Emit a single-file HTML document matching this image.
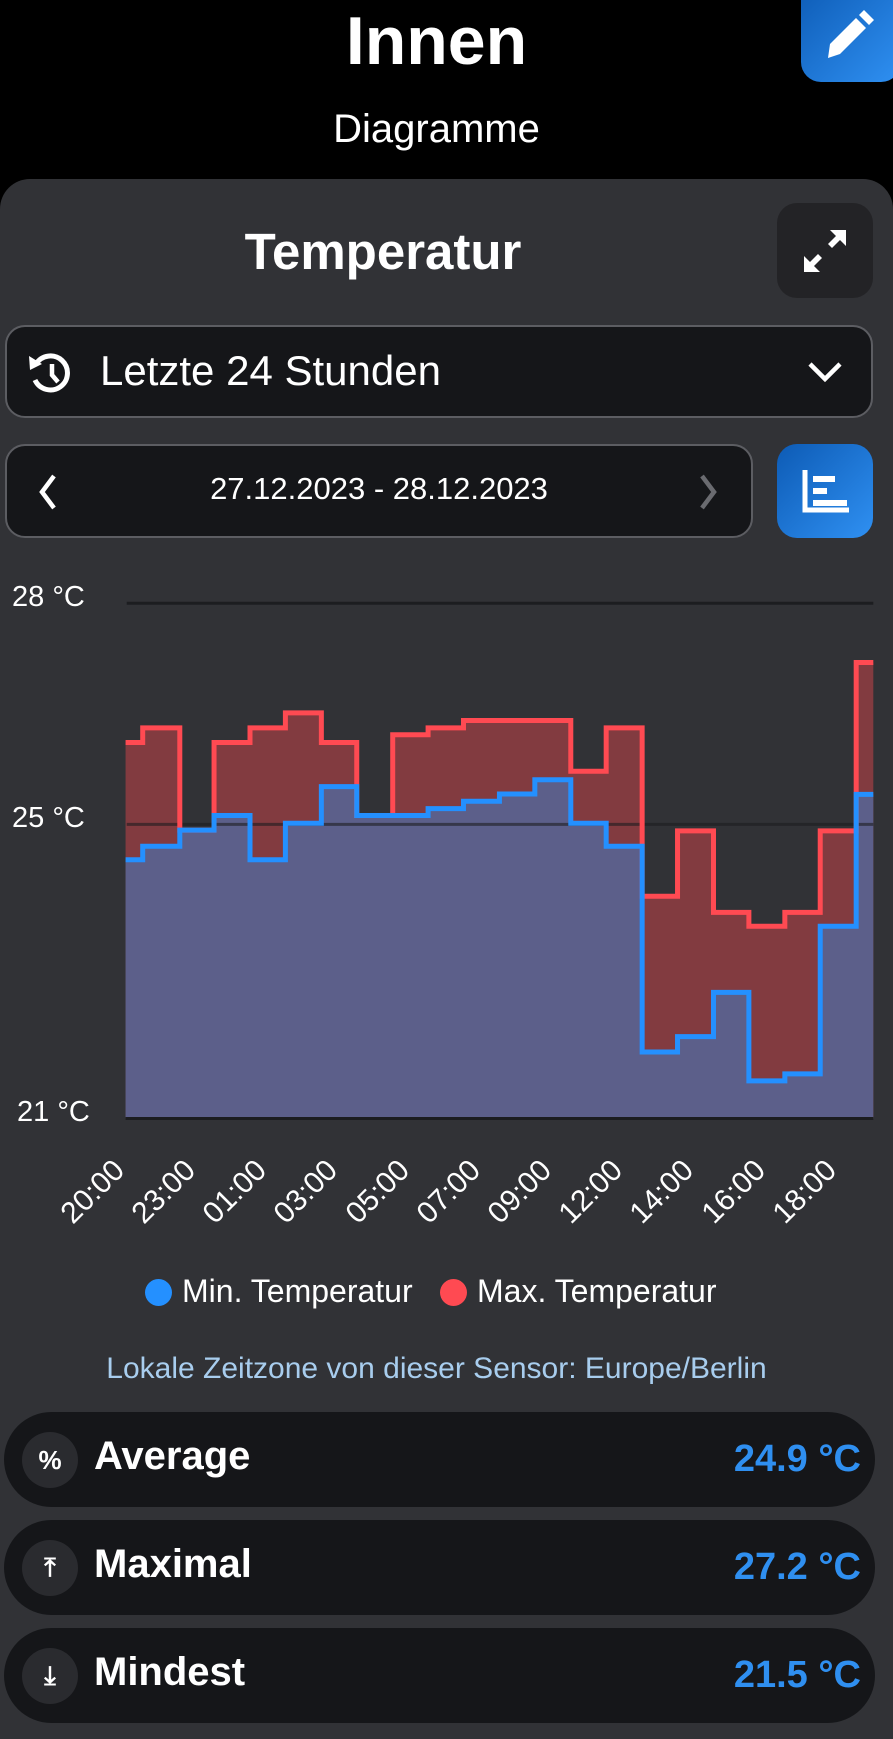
<!DOCTYPE html>
<html><head><meta charset="utf-8"><style>
*{margin:0;padding:0;box-sizing:border-box}
body{width:893px;height:1729px;background:#000;position:relative;overflow:hidden;font-family:"Liberation Sans",sans-serif;color:#fff}
.a{position:absolute}
.panel{left:0;top:179px;width:893px;height:1560px;background:#313236;border-radius:30px 30px 0 0}
.btn{border-radius:20px}
.blue{background:linear-gradient(135deg,#0d5bb5,#2f90f2)}
.row{left:4px;width:871px;height:95px;background:#151619;border-radius:48px}
.ic{left:18px;top:20px;width:56px;height:56px;border-radius:50%;background:#2a2b2f;display:flex;align-items:center;justify-content:center;font-size:26px;font-weight:bold}
.lbl{left:90px;top:22px;font-size:40px;font-weight:bold}
.val{right:14px;top:26px;font-size:38px;font-weight:bold;color:#2f8ff0}
</style></head><body>
<div class="a" style="left:0;width:873px;top:2px;text-align:center;font-size:68px;font-weight:bold">Innen</div>
<div class="a" style="left:0;width:873px;top:107px;text-align:center;font-size:40px">Diagramme</div>
<div class="a btn blue" style="left:801px;top:-20px;width:100px;height:102px"></div>
<svg class="a" style="left:820px;top:10px" width="56" height="52" viewBox="0 0 56 52"><path d="M8 48 L10 34 L36 8 L46 18 L20 44 Z" fill="#fff"/><path d="M39 5 L44 0 L54 10 L49 15 Z" fill="#fff"/></svg>
<div class="a panel"></div>
<div class="a" style="left:0;width:766px;top:222px;text-align:center;font-size:51px;font-weight:bold">Temperatur</div>
<div class="a btn" style="left:777px;top:203px;width:96px;height:95px;background:#232326"></div>
<svg class="a" style="left:800px;top:226px" width="50" height="50" viewBox="0 0 50 50"><path d="M30 4 H46 V20 L40 14 L32 22 L28 18 L36 10 Z M4 30 V46 H20 L14 40 L22 32 L18 28 L10 36 Z" fill="#fff"/></svg>
<div class="a" style="left:5px;top:325px;width:868px;height:93px;border:2px solid #5c5d62;border-radius:20px;background:#151619"></div>
<svg class="a" style="left:26px;top:348px" width="50" height="50" viewBox="0 0 50 50"><path d="M10 16 A17 17 0 1 1 9 32" fill="none" stroke="#fff" stroke-width="5"/><path d="M3 8 L4 22 L16 16 Z" fill="#fff"/><path d="M26 16 V27 L32 34" fill="none" stroke="#fff" stroke-width="4.5"/></svg>
<div class="a" style="left:100px;top:347px;font-size:42px">Letzte 24 Stunden</div>
<svg class="a" style="left:807px;top:360px" width="36" height="24"><path d="M3 4 L18 19 L33 4" fill="none" stroke="#fff" stroke-width="4.5"/></svg>
<div class="a" style="left:5px;top:444px;width:748px;height:94px;border:2px solid #5c5d62;border-radius:20px;background:#151619"></div>
<svg class="a" style="left:36px;top:472px" width="24" height="40"><path d="M18 4 L6 20 L18 36" fill="none" stroke="#fff" stroke-width="4.5"/></svg>
<svg class="a" style="left:696px;top:472px" width="24" height="40"><path d="M6 4 L18 20 L6 36" fill="none" stroke="#6a6b70" stroke-width="4.5"/></svg>
<div class="a" style="left:5px;width:748px;top:471px;text-align:center;font-size:31px">27.12.2023 - 28.12.2023</div>
<div class="a btn blue" style="left:777px;top:444px;width:96px;height:94px"></div>
<svg class="a" style="left:801px;top:466px" width="50" height="50" viewBox="0 0 50 50"><path d="M4 4 V44 H48" fill="none" stroke="#fff" stroke-width="5"/><rect x="12" y="10" width="22" height="6" fill="#fff"/><rect x="12" y="22" width="14" height="6" fill="#fff"/><rect x="12" y="34" width="34" height="6" fill="#fff"/></svg>

<div class="a" style="left:12px;top:581px;font-size:29px">28 °C</div>
<div class="a" style="left:12px;top:802px;font-size:29px">25 °C</div>
<div class="a" style="left:17px;top:1096px;font-size:29px">21 °C</div>
<svg class="a" style="left:0;top:554px" width="895" height="603" viewBox="0 0 1568 1568" preserveAspectRatio="none">
<line x1="222" y1="128" x2="1530" y2="128" stroke="#1c1d20" stroke-width="3" vector-effect="non-scaling-stroke"/>
<path d="M220,490 H250 V452 H315 V718 H375 V490 H438 V452 H500 V413 H563 V490 H625 V680 H688 V470 H750 V452 H812 V433 H1000 V565 H1062 V452 H1125 V890 H1187 V720 H1250 V932 H1312 V968 H1375 V932 H1437 V720 H1500 V282 H1530 V1468 H220 Z" fill="#823b40"/>
<path d="M220,795 H250 V760 H315 V718 H375 V680 H438 V795 H500 V700 H563 V605 H625 V680 H750 V662 H812 V643 H875 V624 H937 V587 H1000 V700 H1062 V760 H1125 V1295 H1187 V1255 H1250 V1140 H1312 V1370 H1375 V1352 H1437 V968 H1500 V625 H1530 V1468 H220 Z" fill="#5c5f8a"/>
<line x1="222" y1="703" x2="1530" y2="703" stroke="#1c1d20" stroke-opacity="0.6" stroke-width="3" vector-effect="non-scaling-stroke"/>
<line x1="220" y1="1468" x2="1530" y2="1468" stroke="#1c1d20" stroke-width="3" vector-effect="non-scaling-stroke"/>
<path d="M220,490 H250 V452 H315 V718 H375 V490 H438 V452 H500 V413 H563 V490 H625 V680 H688 V470 H750 V452 H812 V433 H1000 V565 H1062 V452 H1125 V890 H1187 V720 H1250 V932 H1312 V968 H1375 V932 H1437 V720 H1500 V282 H1530" fill="none" stroke="#ff4a52" stroke-width="5" vector-effect="non-scaling-stroke"/>
<path d="M220,795 H250 V760 H315 V718 H375 V680 H438 V795 H500 V700 H563 V605 H625 V680 H750 V662 H812 V643 H875 V624 H937 V587 H1000 V700 H1062 V760 H1125 V1295 H1187 V1255 H1250 V1140 H1312 V1370 H1375 V1352 H1437 V968 H1500 V625 H1530" fill="none" stroke="#2490ff" stroke-width="5" vector-effect="non-scaling-stroke"/>
</svg>
<svg class="a" style="left:0;top:1130px" width="893" height="130" font-family="Liberation Sans, sans-serif" font-size="30" fill="#fff" text-anchor="end">
<text transform="translate(126,42) rotate(-45)">20:00</text>
<text transform="translate(197,42) rotate(-45)">23:00</text>
<text transform="translate(268,42) rotate(-45)">01:00</text>
<text transform="translate(339,42) rotate(-45)">03:00</text>
<text transform="translate(411,42) rotate(-45)">05:00</text>
<text transform="translate(482,42) rotate(-45)">07:00</text>
<text transform="translate(553,42) rotate(-45)">09:00</text>
<text transform="translate(624,42) rotate(-45)">12:00</text>
<text transform="translate(695,42) rotate(-45)">14:00</text>
<text transform="translate(767,42) rotate(-45)">16:00</text>
<text transform="translate(838,42) rotate(-45)">18:00</text>
</svg>
<div class="a" style="left:145px;top:1279px;width:27px;height:27px;border-radius:50%;background:#2490ff"></div>
<div class="a" style="left:182px;top:1273px;font-size:32px">Min. Temperatur</div>
<div class="a" style="left:440px;top:1279px;width:27px;height:27px;border-radius:50%;background:#ff4a52"></div>
<div class="a" style="left:477px;top:1273px;font-size:32px">Max. Temperatur</div>
<div class="a" style="left:0;width:873px;top:1352px;text-align:center;font-size:30px;color:#a8cdee">Lokale Zeitzone von dieser Sensor: Europe/Berlin</div>

<div class="a row" style="top:1412px"><div class="a ic">%</div><div class="a lbl">Average</div><div class="a val">24.9 °C</div></div>
<div class="a row" style="top:1520px"><div class="a ic">⤒</div><div class="a lbl">Maximal</div><div class="a val">27.2 °C</div></div>
<div class="a row" style="top:1628px"><div class="a ic">⤓</div><div class="a lbl">Mindest</div><div class="a val">21.5 °C</div></div>
</body></html>
